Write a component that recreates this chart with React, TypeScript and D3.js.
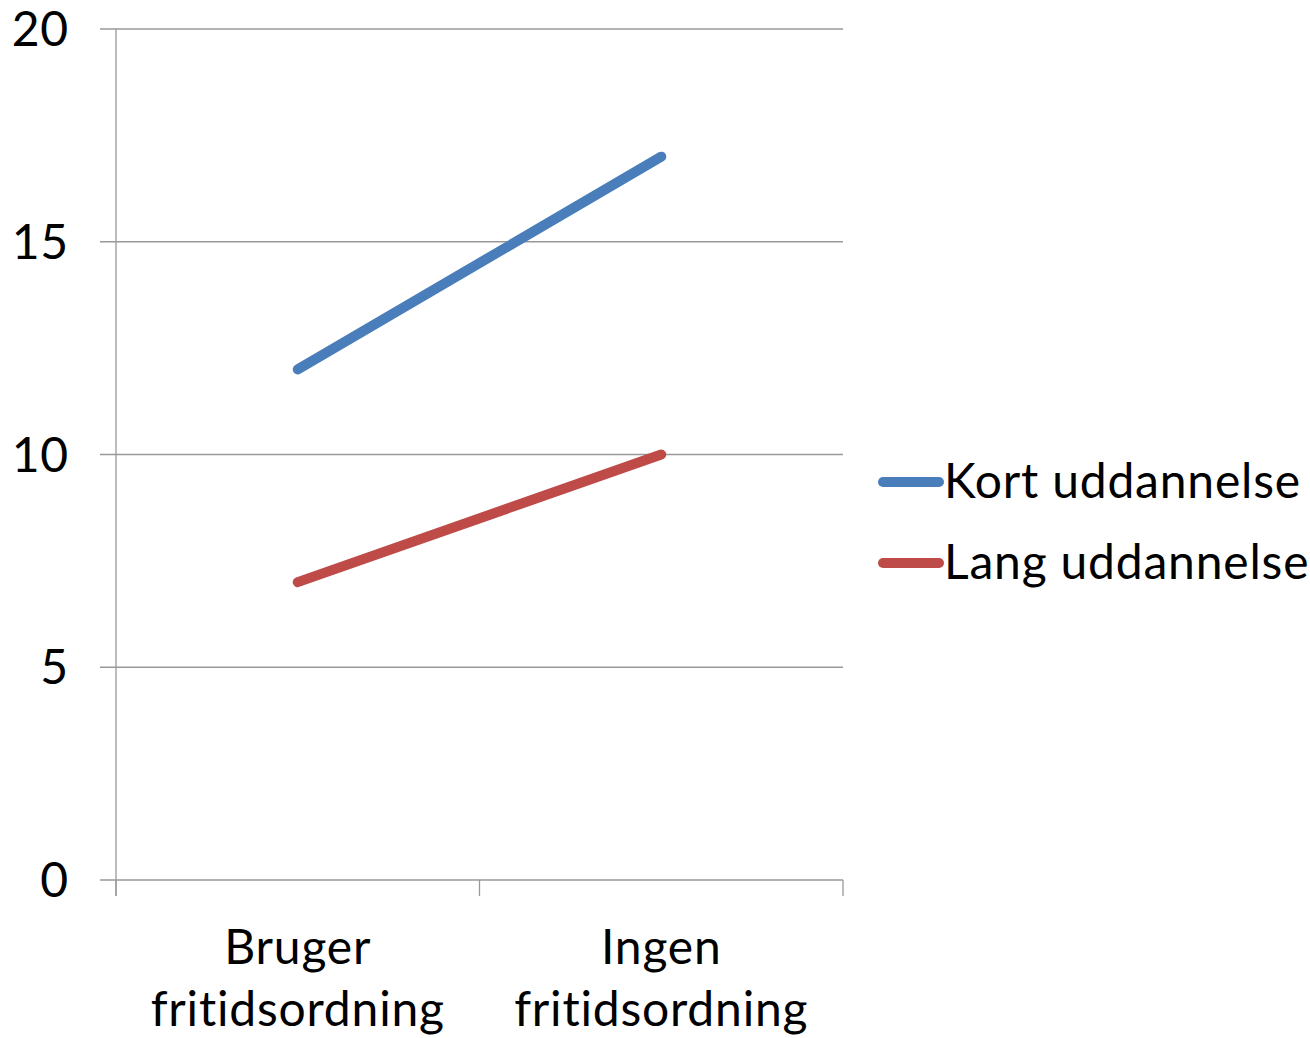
import React, { useRef, useEffect } from 'react';
import * as d3 from 'd3';

const categories = [['Bruger', 'fritidsordning'], ['Ingen', 'fritidsordning']];
const seriesNames = ['Kort uddannelse', 'Lang uddannelse'];
const kortValues = [12, 17];
const langValues = [7, 10];
const yTicks = [0, 5, 10, 15, 20];
const colors = ['#4A7EBB', '#BE4B48'];

const FONT = 'Lato, "Open Sans", sans-serif';
const FS = 48;
const LS = 0.8;

const App = () => {
  const svgRef = useRef<SVGSVGElement>(null);
  const width = 1310;
  const height = 1038;

  useEffect(() => {
    const svg = d3.select(svgRef.current);
    svg.selectAll('*').remove();

    const margin = { top: 29, left: 116, right: 467, bottom: 158 };
    const innerW = width - margin.left - margin.right;
    const innerH = height - margin.top - margin.bottom;

    const g = svg.append('g').attr('transform', `translate(${margin.left},${margin.top})`);

    const keys = categories.map(c => c.join(' '));
    const x = d3.scaleBand().domain(keys).range([0, innerW]);
    const y = d3.scaleLinear().domain([0, 20]).range([innerH, 0]);

    // gridlines + y tick marks
    g.selectAll('.grid')
      .data(yTicks)
      .enter()
      .append('line')
      .attr('x1', -16)
      .attr('x2', innerW)
      .attr('y1', d => y(d))
      .attr('y2', d => y(d))
      .attr('stroke', '#999')
      .attr('stroke-width', 1.3);

    // y axis line
    g.append('line')
      .attr('x1', 0).attr('x2', 0)
      .attr('y1', 0).attr('y2', innerH + 16)
      .attr('stroke', '#999')
      .attr('stroke-width', 1.3);

    // x tick marks at band edges
    const edges = [0, ...keys.map(k => (x(k) as number) + x.bandwidth())];
    g.selectAll('.xtick')
      .data(edges)
      .enter()
      .append('line')
      .attr('x1', d => d).attr('x2', d => d)
      .attr('y1', innerH).attr('y2', innerH + 16)
      .attr('stroke', '#999')
      .attr('stroke-width', 1.3);

    // y labels
    g.selectAll('.ylab')
      .data(yTicks)
      .enter()
      .append('text')
      .attr('x', -47)
      .attr('y', d => y(d) + 17)
      .attr('text-anchor', 'end')
      .attr('font-family', FONT)
      .attr('font-size', FS)
      .attr('letter-spacing', LS)
      .attr('fill', '#000')
      .text(d => d);

    // x labels
    categories.forEach((c, i) => {
      const cx = (x(keys[i]) as number) + x.bandwidth() / 2;
      c.forEach((line, j) => {
        g.append('text')
          .attr('x', cx)
          .attr('y', innerH + 84 + j * 62)
          .attr('text-anchor', 'middle')
          .attr('font-family', FONT)
          .attr('font-size', FS)
          .attr('letter-spacing', LS)
          .attr('fill', '#000')
          .text(line);
      });
    });

    // lines
    const line = d3.line<number>()
      .x((d, i) => (x(keys[i]) as number) + x.bandwidth() / 2)
      .y(d => y(d));

    [kortValues, langValues].forEach((vals, i) => {
      g.append('path')
        .attr('d', line(vals))
        .attr('fill', 'none')
        .attr('stroke', colors[i])
        .attr('stroke-width', 10)
        .attr('stroke-linecap', 'round');
    });

    // legend
    const legend = svg.append('g').attr('transform', 'translate(883, 482)');
    seriesNames.forEach((name, i) => {
      const row = legend.append('g').attr('transform', `translate(0, ${i * 81})`);
      row.append('line')
        .attr('x1', 0).attr('x2', 56)
        .attr('y1', 0).attr('y2', 0)
        .attr('stroke', colors[i])
        .attr('stroke-width', 10)
        .attr('stroke-linecap', 'round');
      row.append('text')
        .attr('x', 61)
        .attr('y', 16)
        .attr('font-family', FONT)
        .attr('font-size', FS)
        .attr('letter-spacing', LS)
        .attr('fill', '#000')
        .text(name);
    });
  }, []);

  return (
    <svg
      ref={svgRef}
      width={width}
      height={height}
      style={{ position: 'absolute', left: 0, top: 0, background: '#fff' }}
    />
  );
};

export default App;
